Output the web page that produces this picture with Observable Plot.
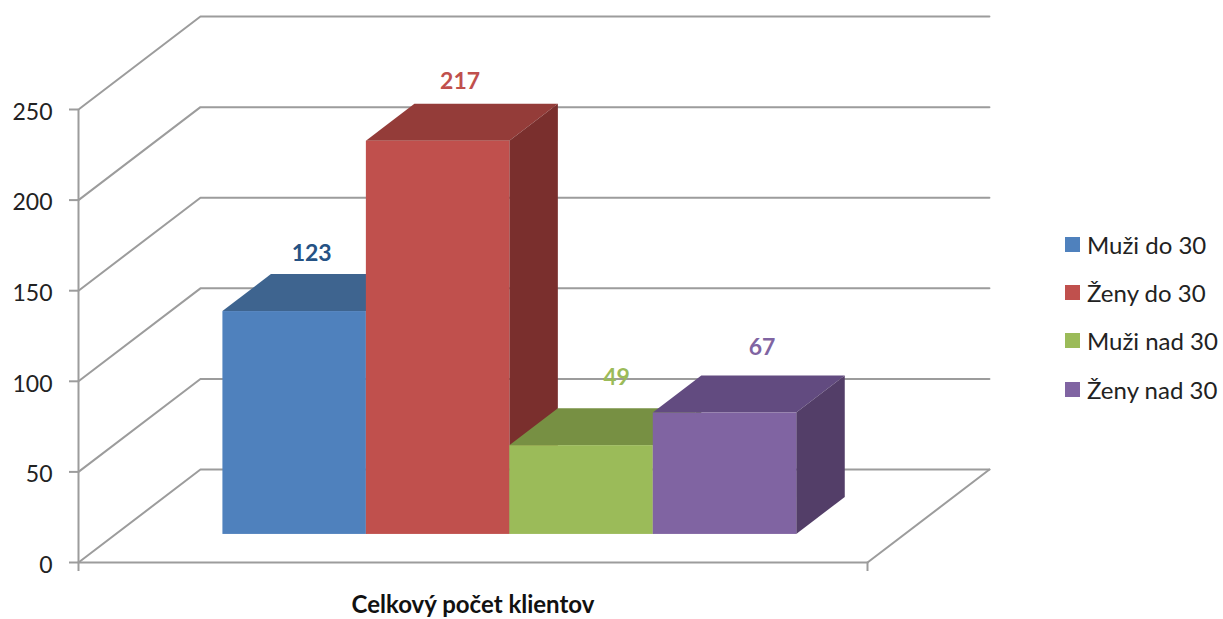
<!DOCTYPE html>
<html>
<head>
<meta charset="utf-8">
<script src="https://cdn.jsdelivr.net/npm/d3@7"></script>
<script src="https://cdn.jsdelivr.net/npm/@observablehq/plot@0.6"></script>
<style>
  html, body { margin: 0; padding: 0; background: #fff; }
  #chart { position: relative; width: 1223px; height: 619px; overflow: hidden; font-family: Lato, sans-serif; }
  #chart svg { display: block; }
  .legend { position: absolute; left: 1065px; top: 220px; }
  .legend div { display: flex; align-items: center; height: 48.3px; font-size: 24px; color: #222; white-space: nowrap; }
  .legend i { display: block; width: 15px; height: 15px; margin-right: 7px; }
</style>
</head>
<body>
<div id="chart"></div>
<script>
// Data
const seriesNames = ["Muži do 30", "Ženy do 30", "Muži nad 30", "Ženy nad 30"];
const seriesValues = [123, 217, 49, 67];
const axisTicks = [0, 50, 100, 150, 200, 250];
const axisTitle = "Celkový počet klientov";

// Colours
const frontColors = ["#4F81BD", "#C0504D", "#9BBB59", "#8064A2"];
const topColors = ["#3E648F", "#943C39", "#779043", "#624B80"];
const sideColors = ["#335375", "#7A2F2D", "#62763A", "#533E68"];
const labelColors = ["#255284", "#C0504D", "#9BBB59", "#8064A2"];
const gridColor = "#9C9C9C";

// Oblique projection: one unit of depth, expressed in scale units
const gapWidth = 0.75;
const plotWidth = seriesValues.length + 2 * gapWidth;
const depthX = 0.85;
const depthY = 51.3;
const barNear = 0.302;
const barFar = 0.7;
const px = (x, d) => x + depthX * d;
const py = (y, d) => y + depthY * d;

// Label nudges, in pixels
const labelDx = [17, 22, 35, 37];
const labelDy = [-58, -60, -68, -65];

const grid = axisTicks.map((v) =>
  Plot.line(
    [[0, v], [depthX, py(v, 1)], [px(plotWidth, 1) , py(v, 1)]],
    {stroke: gridColor, strokeWidth: 2, strokeLinejoin: "round"}
  )
);

const floorEdges = [
  Plot.line([[0, 0], [plotWidth, 0]], {stroke: gridColor, strokeWidth: 2}),
  Plot.line([[plotWidth, 0], [px(plotWidth, 1), py(0, 1)]], {stroke: gridColor, strokeWidth: 2})
];

const bars = seriesValues.flatMap((v, i) => {
  const x1 = gapWidth + i;
  const x2 = x1 + 1;
  return [
    Plot.areaX(
      [
        {y: py(v, barNear), x1: px(x1, barNear), x2: px(x2, barNear)},
        {y: py(v, barFar), x1: px(x1, barFar), x2: px(x2, barFar)}
      ],
      {x1: "x1", x2: "x2", y: "y", fill: topColors[i]}
    ),
    Plot.areaY(
      [
        {x: px(x2, barNear), y1: py(0, barNear), y2: py(v, barNear)},
        {x: px(x2, barFar), y1: py(0, barFar), y2: py(v, barFar)}
      ],
      {x: "x", y1: "y1", y2: "y2", fill: sideColors[i]}
    ),
    Plot.rect(
      [{x1: px(x1, barNear), x2: px(x2, barNear), y1: py(0, barNear), y2: py(v, barNear)}],
      {x1: "x1", x2: "x2", y1: "y1", y2: "y2", fill: frontColors[i]}
    )
  ];
});

const labels = seriesValues.map((v, i) =>
  Plot.text([v], {
    x: () => px(gapWidth + i + 0.5, barNear),
    y: () => py(v, barNear),
    text: (d) => String(d),
    dx: labelDx[i],
    dy: labelDy[i],
    fill: labelColors[i],
    fontSize: 23,
    fontWeight: 700
  })
);

const plot = Plot.plot({
  width: 1223,
  height: 619,
  marginLeft: 78,
  marginRight: 356,
  marginTop: 109,
  marginBottom: 57,
  style: {fontFamily: "Lato, sans-serif", background: "#fff", overflow: "visible"},
  x: {domain: [0, plotWidth]},
  y: {domain: [0, 250]},
  marks: [
    ...grid,
    ...floorEdges,
    Plot.ruleX([0], {y1: 0, y2: 250, stroke: gridColor, strokeWidth: 2}),
    Plot.axisX({
      ticks: [0, plotWidth],
      tickFormat: () => "",
      tickSize: 9,
      label: null,
      stroke: gridColor,
      strokeWidth: 2
    }),
    Plot.axisY({
      ticks: axisTicks,
      tickSize: 9,
      text: null,
      label: null,
      stroke: gridColor,
      strokeWidth: 2
    }),
    Plot.axisY({
      ticks: axisTicks,
      tickSize: 0,
      tickPadding: 26,
      dy: 3,
      label: null,
      fill: "#222",
      fontSize: 23
    }),
    ...bars,
    ...labels,
    Plot.text([axisTitle], {
      frameAnchor: "bottom",
      dy: 50,
      text: (d) => d,
      fill: "#111",
      fontSize: 24,
      fontWeight: 700,
      style: "letter-spacing:.3px"
    })
  ]
});

const root = document.getElementById("chart");
root.appendChild(plot);

const legend = document.createElement("div");
legend.className = "legend";
seriesNames.forEach((name, i) => {
  const row = document.createElement("div");
  const swatch = document.createElement("i");
  swatch.style.background = frontColors[i];
  row.appendChild(swatch);
  row.appendChild(document.createTextNode(name));
  legend.appendChild(row);
});
root.appendChild(legend);
</script>
</body>
</html>
